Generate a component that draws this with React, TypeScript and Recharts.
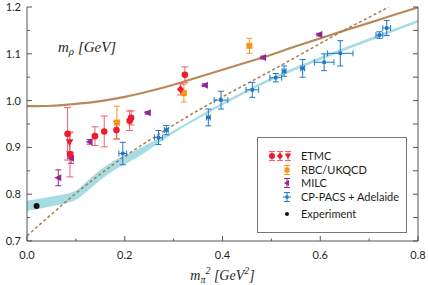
import React from 'react';
import { ComposedChart, XAxis, YAxis, Line, Area, Scatter, ErrorBar, Legend, Label } from 'recharts';

// ETMC (three marker kinds)
const etmcCircleX = [0.083, 0.088, 0.139, 0.158, 0.183, 0.21, 0.213, 0.323];
const etmcCircleY = [0.929, 0.885, 0.924, 0.934, 0.937, 0.957, 0.963, 1.055];
const etmcCircleErr = [0.056, 0.048, 0.02, 0.033, 0.019, 0.021, 0.015, 0.017];
const etmcDiamondX = [0.314];
const etmcDiamondY = [1.024];
const etmcDiamondErr = [0.012];
const etmcTriX = [0.087];
const etmcTriY = [0.911];
const etmcTriErr = [0.02];

const rbcX = [0.184, 0.321, 0.455];
const rbcY = [0.953, 1.016, 1.117];
const rbcErr = [0.035, 0.019, 0.016];

const milcX = [0.064, 0.09, 0.128, 0.247, 0.364, 0.483, 0.598];
const milcY = [0.835, 0.877, 0.912, 0.974, 1.033, 1.092, 1.141];
const milcErr = [0.017, 0.011, 0.005, 0.003, 0.003, 0.003, 0.003];

const cpX = [0.196, 0.269, 0.285, 0.371, 0.397, 0.461, 0.509, 0.526, 0.564, 0.608, 0.641, 0.721, 0.736];
const cpY = [0.887, 0.921, 0.937, 0.964, 1.001, 1.023, 1.049, 1.063, 1.069, 1.082, 1.101, 1.14, 1.155];
const cpErrY = [0.024, 0.015, 0.01, 0.018, 0.019, 0.016, 0.009, 0.011, 0.019, 0.018, 0.027, 0.007, 0.016];
const cpErrX = [0.008, 0.008, 0.004, 0.004, 0.014, 0.013, 0.012, 0.004, 0.004, 0.02, 0.026, 0.007, 0.008];

const expX = [0.0196];
const expY = [0.775];

// fit curves
const fitX = [0, 0.05, 0.1, 0.15, 0.2, 0.25, 0.3, 0.35, 0.4, 0.45, 0.5, 0.55, 0.6, 0.65, 0.7, 0.75, 0.8];
const fitY = [0.988, 0.989, 0.993, 0.999, 1.008, 1.02, 1.034, 1.05, 1.066, 1.082, 1.098, 1.116, 1.133, 1.15, 1.166, 1.183, 1.199];
const dashX = [0, 0.05, 0.1, 0.15, 0.2, 0.25, 0.3, 0.35, 0.4, 0.45, 0.5, 0.55, 0.6, 0.65, 0.7, 0.74];
const dashY = [0.711, 0.757, 0.802, 0.843, 0.881, 0.915, 0.948, 0.979, 1.008, 1.036, 1.064, 1.093, 1.122, 1.151, 1.178, 1.2];
const bandX = [0, 0.05, 0.1, 0.125, 0.15, 0.175, 0.2, 0.225, 0.25, 0.275, 0.3, 0.4, 0.5, 0.6, 0.7, 0.8];
const bandLo = [0.764, 0.774, 0.788, 0.808, 0.83, 0.849, 0.864, 0.878, 0.895, 0.913, 0.93, 0.99, 1.043, 1.087, 1.127, 1.167];
const bandHi = [0.786, 0.795, 0.808, 0.83, 0.852, 0.87, 0.883, 0.895, 0.909, 0.921, 0.936, 0.996, 1.049, 1.093, 1.133, 1.173];

const xTicks = [0, 0.1, 0.2, 0.3, 0.4, 0.5, 0.6, 0.7, 0.8];
const yTicks = [0.7, 0.75, 0.8, 0.85, 0.9, 0.95, 1.0, 1.05, 1.1, 1.15, 1.2];

const RED = '#ec1c2e';
const RED_ERR = '#f1606b';
const ORANGE = '#f7941d';
const PURPLE = '#92278f';
const BLUE = '#1f78c1';
const TAN = '#b8895b';
const DASH = '#a97b4f';
const BAND = '#a7dce5';
const AXIS = '#555';
const TEXT = '#231f20';
const SANS = 'Lato, "Open Sans", sans-serif';
const SERIF = '"Liberation Serif", serif';

const pts = (xs: number[], ys: number[], ey: number[] = [], ex: number[] = []) =>
  xs.map((x, i) => ({ x, y: ys[i], ey: ey[i] ?? 0, ex: ex[i] ?? 0 }));
const curve = (xs: number[], ys: number[]) => xs.map((x, i) => ({ x, y: ys[i] }));
const bandData = bandX.map((x, i) => ({ x, band: [bandLo[i], bandHi[i]] }));

const isMajor = (v: number, step: number) => Math.abs(v / step - Math.round(v / step)) < 1e-6;

const BottomTick = (p: any) => {
  const v = p.payload.value;
  const major = isMajor(v, 0.2);
  return (
    <g>
      <line x1={p.x} x2={p.x} y1={p.y} y2={p.y - (major ? 5 : 2.5)} stroke={AXIS} />
      {major && (
        <text x={p.x} y={p.y + 18} textAnchor="middle" fontFamily={SANS} fontSize={11} fill={TEXT}>
          {v.toFixed(1)}
        </text>
      )}
    </g>
  );
};
const TopTick = (p: any) => <line x1={p.x} x2={p.x} y1={p.y} y2={p.y + 5} stroke={AXIS} />;
const LeftTick = (p: any) => {
  const v = p.payload.value;
  const major = isMajor(v, 0.1);
  return (
    <g>
      <line x1={p.x} x2={p.x + (major ? 5 : 3)} y1={p.y} y2={p.y} stroke={AXIS} />
      {major && (
        <text x={p.x - 6} y={p.y + 4} textAnchor="end" fontFamily={SANS} fontSize={11} fill={TEXT}>
          {v.toFixed(1)}
        </text>
      )}
    </g>
  );
};
const RightTick = (p: any) => <line x1={p.x} x2={p.x - 5} y1={p.y} y2={p.y} stroke={AXIS} />;

const circleShape = (color: string, r: number) => (p: any) => <circle cx={p.cx} cy={p.cy} r={r} fill={color} />;
const diamondShape = (p: any) => (
  <path d={`M${p.cx},${p.cy - 4}L${p.cx + 3.5},${p.cy}L${p.cx},${p.cy + 4}L${p.cx - 3.5},${p.cy}Z`} fill={RED} />
);
const triDownShape = (p: any) => (
  <path d={`M${p.cx - 3.8},${p.cy - 3}L${p.cx + 3.8},${p.cy - 3}L${p.cx},${p.cy + 4}Z`} fill={RED} />
);
const squareShape = (color: string, s: number) => (p: any) => (
  <rect x={p.cx - s / 2} y={p.cy - s / 2} width={s} height={s} fill={color} />
);
const triLeftShape = (p: any) => (
  <path d={`M${p.cx - 4},${p.cy}L${p.cx + 3},${p.cy - 3.5}L${p.cx + 3},${p.cy + 3.5}Z`} fill={PURPLE} />
);

const XAxisLabel = (props: any) => {
  const vb = props.viewBox;
  return (
    <text x={vb.x + vb.width / 2} y={vb.y + 39} textAnchor="middle" fontFamily={SERIF} fontStyle="italic" fontSize={14} fill={TEXT}>
      m<tspan dy={3} fontSize={10}>π</tspan>
      <tspan dy={-9} fontSize={10}>2</tspan>
      <tspan dy={6}> [GeV</tspan>
      <tspan dy={-6} fontSize={10}>2</tspan>
      <tspan dy={6}>]</tspan>
    </text>
  );
};

const ErrIcon = ({ x, y, color }: { x: number; y: number; color: string }) => (
  <g stroke={color} strokeWidth={1}>
    <line x1={x} x2={x} y1={y - 4.5} y2={y + 4.5} />
    <line x1={x - 3} x2={x + 3} y1={y - 4.5} y2={y - 4.5} />
    <line x1={x - 3} x2={x + 3} y1={y + 4.5} y2={y + 4.5} />
  </g>
);

const LegendBox = () => {
  const row = (top: number, label: string) => (
    <div style={{ position: 'absolute', left: 43, top: top - 8, lineHeight: '16px', whiteSpace: 'nowrap' }}>{label}</div>
  );
  return (
    <div
      style={{
        position: 'relative',
        width: 150,
        height: 96,
        border: `1px solid #777`,
        background: '#fff',
        boxSizing: 'border-box',
        fontFamily: SANS,
        fontSize: 11,
        color: TEXT,
      }}
    >
      <svg width={42} height={94} style={{ position: 'absolute', left: 0, top: 0 }}>
        <ErrIcon x={14} y={18} color={RED_ERR} />
        <circle cx={14} cy={18} r={3} fill={RED} />
        <ErrIcon x={22} y={18} color={RED_ERR} />
        <path d="M22,14.5L25,18L22,21.5L19,18Z" fill={RED} />
        <ErrIcon x={30} y={18} color={RED_ERR} />
        <path d="M26.8,15.5L33.2,15.5L30,21Z" fill={RED} />
        <ErrIcon x={29} y={32} color={ORANGE} />
        <rect x={26.5} y={29.5} width={5} height={5} fill={ORANGE} />
        <ErrIcon x={29} y={45} color={PURPLE} />
        <path d="M26,45L31,42L31,48Z" fill={PURPLE} />
        <ErrIcon x={29} y={59} color={BLUE} />
        <line x1={25} x2={33} y1={59} y2={59} stroke={BLUE} />
        <rect x={27.5} y={57.5} width={3} height={3} fill={BLUE} />
        <circle cx={29} cy={76} r={2} fill="#111" />
      </svg>
      {row(18, 'ETMC')}
      {row(32, 'RBC/UKQCD')}
      {row(45, 'MILC')}
      {row(59, 'CP-PACS + Adelaide')}
      {row(76, 'Experiment')}
    </div>
  );
};

export default function App() {
  return (
    <div style={{ position: 'absolute', left: 0, top: 0, width: 428, height: 285, background: '#fff' }}>
      <ComposedChart width={428} height={285} margin={{ top: 7, right: 0, bottom: 0, left: 0 }}>
        <XAxis
          dataKey="x"
          type="number"
          domain={[0, 0.8]}
          ticks={xTicks}
          interval={0}
          allowDataOverflow
          height={44}
          tickSize={0}
          tickMargin={0}
          tickLine={false}
          tick={BottomTick}
          axisLine={{ stroke: AXIS }}
        >
          <Label content={XAxisLabel} />
        </XAxis>
        <XAxis
          xAxisId="top"
          orientation="top"
          type="number"
          domain={[0, 0.8]}
          ticks={xTicks}
          interval={0}
          allowDataOverflow
          height={0}
          tickSize={0}
          tickMargin={0}
          tickLine={false}
          tick={TopTick}
          axisLine={{ stroke: AXIS }}
        />
        <YAxis
          dataKey="y"
          type="number"
          domain={[0.7, 1.2]}
          ticks={yTicks}
          interval={0}
          allowDataOverflow
          width={27}
          tickSize={0}
          tickMargin={0}
          tickLine={false}
          tick={LeftTick}
          axisLine={{ stroke: AXIS }}
        />
        <YAxis
          yAxisId="right"
          orientation="right"
          type="number"
          domain={[0.7, 1.2]}
          ticks={yTicks}
          interval={0}
          allowDataOverflow
          width={10}
          tickSize={0}
          tickMargin={0}
          tickLine={false}
          tick={RightTick}
          axisLine={{ stroke: AXIS }}
        />
        <Legend
          layout="horizontal"
          verticalAlign="middle"
          align="center"
          content={LegendBox}
          wrapperStyle={{ left: 257, top: 137, width: 150, height: 96 }}
        />
        <Area data={bandData} dataKey="band" type="monotone" fill={BAND} fillOpacity={1} stroke="none" isAnimationActive={false} />
        <Line data={curve(fitX, fitY)} dataKey="y" type="monotone" stroke={TAN} strokeWidth={2.2} dot={false} isAnimationActive={false} />
        <Line data={curve(dashX, dashY)} dataKey="y" type="monotone" stroke={DASH} strokeWidth={1.5} strokeDasharray="3 2.5" dot={false} isAnimationActive={false} />

        <Scatter data={pts(milcX, milcY, milcErr)} shape={triLeftShape} isAnimationActive={false}>
          <ErrorBar dataKey="ey" direction="y" width={3} stroke={PURPLE} strokeWidth={1} />
        </Scatter>
        <Scatter data={pts(rbcX, rbcY, rbcErr)} shape={squareShape(ORANGE, 6)} isAnimationActive={false}>
          <ErrorBar dataKey="ey" direction="y" width={3} stroke={ORANGE} strokeWidth={1} />
        </Scatter>
        <Scatter data={pts(etmcCircleX, etmcCircleY, etmcCircleErr)} shape={circleShape(RED, 3.3)} isAnimationActive={false}>
          <ErrorBar dataKey="ey" direction="y" width={3.5} stroke={RED_ERR} strokeWidth={1} />
        </Scatter>
        <Scatter data={pts(etmcDiamondX, etmcDiamondY, etmcDiamondErr)} shape={diamondShape} isAnimationActive={false}>
          <ErrorBar dataKey="ey" direction="y" width={3.5} stroke={RED_ERR} strokeWidth={1} />
        </Scatter>
        <Scatter data={pts(etmcTriX, etmcTriY, etmcTriErr)} shape={triDownShape} isAnimationActive={false}>
          <ErrorBar dataKey="ey" direction="y" width={3.5} stroke={RED_ERR} strokeWidth={1} />
        </Scatter>
        <Scatter data={pts(cpX, cpY, cpErrY, cpErrX)} shape={squareShape(BLUE, 3.5)} isAnimationActive={false}>
          <ErrorBar dataKey="ey" direction="y" width={3} stroke={BLUE} strokeWidth={1} />
          <ErrorBar dataKey="ex" direction="x" width={3} stroke={BLUE} strokeWidth={1} />
        </Scatter>
        <Scatter data={pts(expX, expY)} shape={circleShape('#111', 3)} isAnimationActive={false} />
      </ComposedChart>
      <svg width={110} height={28} style={{ position: 'absolute', left: 55, top: 34 }}>
        <text x={3} y={18} fontFamily={SERIF} fontStyle="italic" fontSize={15} fill={TEXT}>
          m<tspan dy={3} fontSize={11}>ρ</tspan>
          <tspan dy={-3}> [GeV]</tspan>
        </text>
      </svg>
    </div>
  );
}
